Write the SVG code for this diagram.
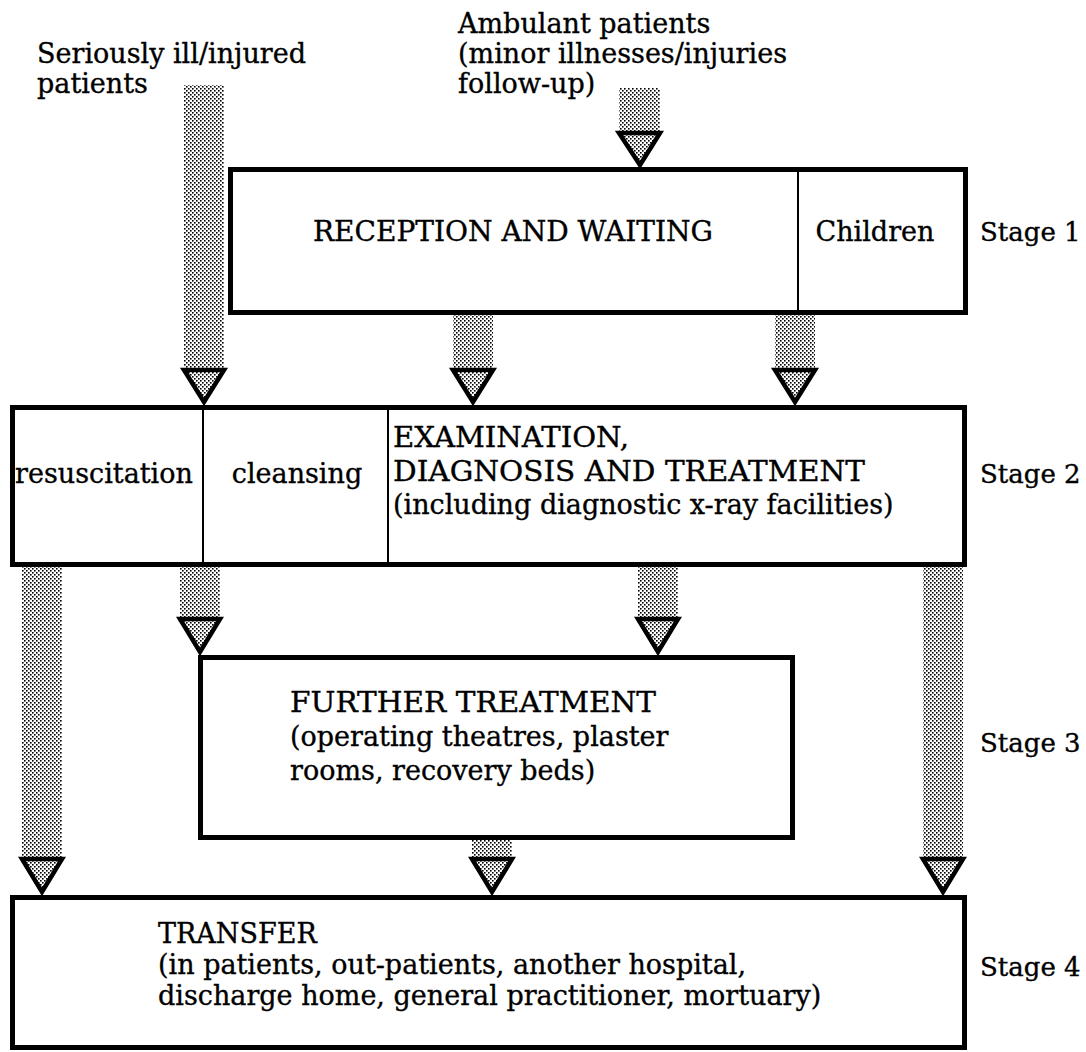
<svg xmlns="http://www.w3.org/2000/svg" width="1086" height="1052" viewBox="0 0 1086 1052">
<defs>
<pattern id="dots" patternUnits="userSpaceOnUse" width="4" height="4">
<rect width="4" height="4" fill="#fff"/>
<rect x="0" y="0" width="1.6" height="1.6" fill="#000"/>
<rect x="2" y="2" width="1.6" height="1.6" fill="#000"/>
</pattern>
<style>
text{font-family:"DejaVu Serif","Liberation Serif",serif;font-size:27px;fill:#000;stroke:#000;stroke-width:0.35}
.stage{font-size:26px}
.box{fill:#fff;stroke:#000;stroke-width:5}
.div{stroke:#000;stroke-width:2}
.col{fill:url(#dots)}
.tri{fill:url(#dots);stroke:#000;stroke-width:4.5;stroke-linejoin:miter}
</style>
</defs>
<rect width="1086" height="1052" fill="#fff"/>

<g id="connectors">
<rect class="col" x="184" y="85" width="40" height="285"/>
<polygon class="tri" points="184,370 224,370 204,402"/>
<rect class="col" x="619" y="88" width="41" height="45"/>
<polygon class="tri" points="619,133 660,133 640,165"/>
<rect class="col" x="453" y="315" width="40" height="55"/>
<polygon class="tri" points="453,370 493,370 473,402"/>
<rect class="col" x="775" y="315" width="40" height="55"/>
<polygon class="tri" points="775,370 815,370 795,402"/>
<rect class="col" x="180" y="566" width="40" height="53"/>
<polygon class="tri" points="180,619 220,619 200,652"/>
<rect class="col" x="638" y="566" width="40" height="53"/>
<polygon class="tri" points="638,619 678,619 658,652"/>
<rect class="col" x="22" y="566" width="40" height="293"/>
<polygon class="tri" points="22,859 62,859 42,892"/>
<rect class="col" x="923" y="566" width="40" height="293"/>
<polygon class="tri" points="923,859 963,859 943,892"/>
<rect class="col" x="472" y="840" width="40" height="19"/>
<polygon class="tri" points="472,859 512,859 492,892"/>
</g>

<g id="labels-top">
<text x="37" y="63">Seriously ill/injured</text>
<text x="37" y="93">patients</text>
<text x="458" y="33">Ambulant patients</text>
<text x="458" y="63">(minor illnesses/injuries</text>
<text x="458" y="93">follow-up)</text>
</g>

<g id="stage1">
<rect class="box" x="230.5" y="169.5" width="735" height="143"/>
<line class="div" x1="798" y1="169" x2="798" y2="313"/>
<text x="313" y="241" textLength="400" lengthAdjust="spacingAndGlyphs">RECEPTION AND WAITING</text>
<text x="875" y="241" text-anchor="middle">Children</text>
<text class="stage" x="980" y="241">Stage 1</text>
</g>

<g id="stage2">
<rect class="box" x="12.5" y="407.5" width="952" height="157"/>
<line class="div" x1="203" y1="407" x2="203" y2="565"/>
<line class="div" x1="388" y1="407" x2="388" y2="565"/>
<text x="104" y="483" text-anchor="middle">resuscitation</text>
<text x="297" y="483" text-anchor="middle">cleansing</text>
<text x="393" y="447" textLength="236" lengthAdjust="spacingAndGlyphs">EXAMINATION,</text>
<text x="393" y="481" textLength="472" lengthAdjust="spacingAndGlyphs">DIAGNOSIS AND TREATMENT</text>
<text x="393" y="514">(including diagnostic x-ray facilities)</text>
<text class="stage" x="980" y="483">Stage 2</text>
</g>

<g id="stage3">
<rect class="box" x="200.5" y="657.5" width="592" height="180"/>
<text x="290" y="712" textLength="366" lengthAdjust="spacingAndGlyphs">FURTHER TREATMENT</text>
<text x="290" y="746">(operating theatres, plaster</text>
<text x="290" y="780">rooms, recovery beds)</text>
<text class="stage" x="980" y="752">Stage 3</text>
</g>

<g id="stage4">
<rect class="box" x="12.5" y="897.5" width="952" height="150"/>
<text x="158" y="943">TRANSFER</text>
<text x="158" y="974">(in patients, out-patients, another hospital,</text>
<text x="158" y="1005">discharge home, general practitioner, mortuary)</text>
<text class="stage" x="980" y="976">Stage 4</text>
</g>
</svg>
